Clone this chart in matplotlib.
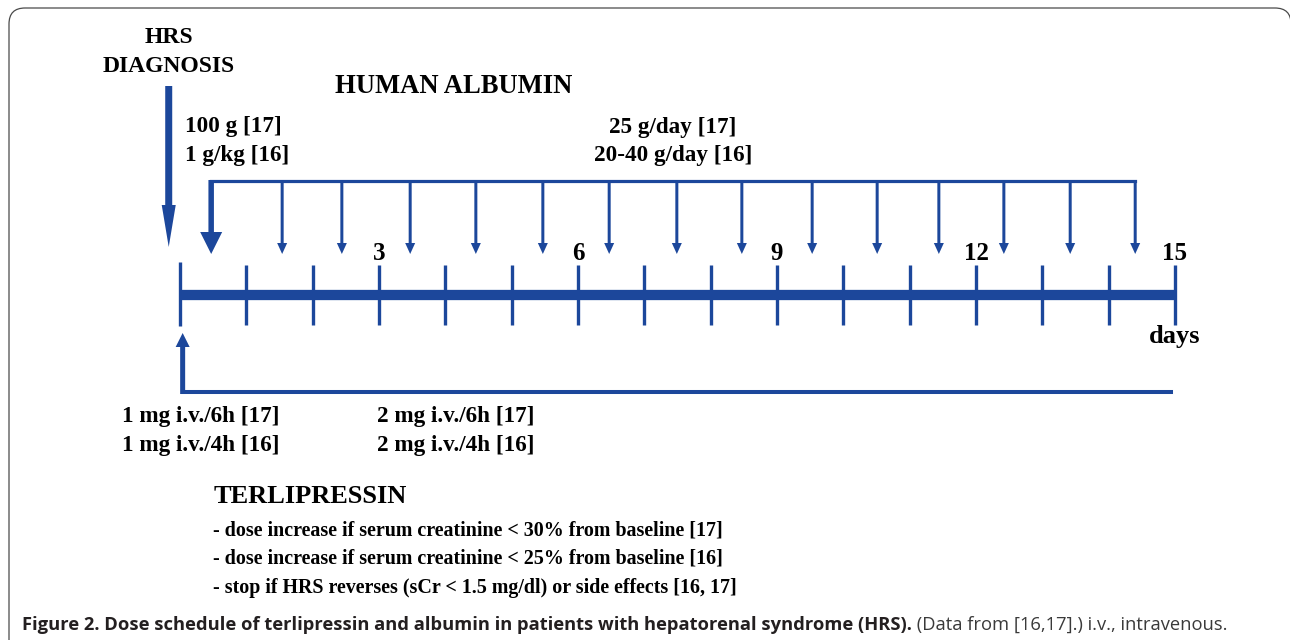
import numpy as np
import matplotlib
matplotlib.use("Agg")
import matplotlib.pyplot as plt
from matplotlib.patches import FancyBboxPatch
from matplotlib.transforms import IdentityTransform

# ---------------- data ----------------
DAYS = list(range(0, 16))
LABELED_DAYS = [3, 6, 9, 12, 15]
HRS_DIAGNOSIS_DAY = -0.17
ALBUMIN_LOADING_DAY = 0.47
ALBUMIN_DAILY_DAYS = [1.54, 2.44, 3.47, 4.46, 5.47, 6.47, 7.49, 8.47,
                      9.53, 10.51, 11.44, 12.42, 13.42, 14.40]
TERLIPRESSIN_START_DAY = 0.04
TERLIPRESSIN_END_DAY = 14.94
TERLI_INCREASE_LABEL_DAY = 2.97

DIAGNOSIS_LABEL = ["HRS", "DIAGNOSIS"]
ALBUMIN_TITLE = "HUMAN ALBUMIN"
ALBUMIN_LOADING_LABELS = ["100 g [17]", "1 g/kg [16]"]
ALBUMIN_DAILY_LABELS = ["25 g/day [17]", "20-40 g/day [16]"]
TERLI_START_LABELS = ["1 mg i.v./6h [17]", "1 mg i.v./4h [16]"]
TERLI_INCREASED_LABELS = ["2 mg i.v./6h [17]", "2 mg i.v./4h [16]"]
TERLI_TITLE = "TERLIPRESSIN"
TERLI_NOTES = [
    "- dose increase if serum creatinine < 30% from baseline [17]",
    "- dose increase if serum creatinine < 25% from baseline [16]",
    "- stop if HRS reverses (sCr < 1.5 mg/dl) or side effects [16, 17]",
]
AXIS_UNIT = "days"
CAPTION_BOLD = ("Figure 2. Dose schedule of terlipressin and albumin in patients "
                "with hepatorenal syndrome (HRS).")
CAPTION_REGULAR = " (Data from [16,17].) i.v., intravenous."

# ---------------- layout ----------------
W, H = 1290, 640
X0 = 180.0            # pixel of day 0
K = 995.0 / 15.0      # pixels per day
BLUE = "#1c479b"
SERIF = "Liberation Serif"

fig = plt.figure(figsize=(W / 100, H / 100), dpi=100)
ax = fig.add_axes([0, 0, 1, 1])
ax.set_xlim(-X0 / K, (W - X0) / K)
ax.set_ylim(H, 0)
ax.axis("off")

# rounded frame
frame = FancyBboxPatch((9, -30), 1282, 632 + 30, boxstyle="round,pad=0,rounding_size=16",
                       transform=IdentityTransform(), fill=False,
                       edgecolor="#4a4a4a", lw=0.9)
fig.patches.append(frame)


def varrow(day, y_from, y_to, shaft, head_w, head_len):
    ax.arrow(day, y_from, 0, y_to - y_from, width=shaft / K, head_width=head_w / K,
             head_length=head_len, length_includes_head=True, color=BLUE, lw=0)


def stext(x, y, s, size, ha="left"):
    ax.text(x, y, s, fontsize=size, fontweight="bold", family=SERIF,
            ha=ha, va="baseline", color="black")


# timeline
ax.plot([DAYS[0], DAYS[-1]], [295, 295], color=BLUE, lw=7.4, solid_capstyle="butt")
ax.vlines(DAYS[1:], 265, 325, color=BLUE, lw=2.4)
ax.vlines(DAYS[0], 262, 326, color=BLUE, lw=2.4)
for d in LABELED_DAYS:
    stext(d, 260, str(d), 18, ha="center")
stext(DAYS[-1], 343, AXIS_UNIT, 19, ha="center")

# HRS diagnosis
stext(HRS_DIAGNOSIS_DAY, 43, DIAGNOSIS_LABEL[0], 17, ha="center")
stext(HRS_DIAGNOSIS_DAY, 72, DIAGNOSIS_LABEL[1], 17, ha="center")
varrow(HRS_DIAGNOSIS_DAY, 86, 247, 7, 14, 42)

# albumin
stext(2.34, 93, ALBUMIN_TITLE, 19.2)
stext(0.075, 132, ALBUMIN_LOADING_LABELS[0], 16.7)
stext(0.075, 161, ALBUMIN_LOADING_LABELS[1], 16.7)
stext(7.43, 133, ALBUMIN_DAILY_LABELS[0], 16.7, ha="center")
stext(7.43, 161, ALBUMIN_DAILY_LABELS[1], 16.7, ha="center")
ax.plot([ALBUMIN_LOADING_DAY, ALBUMIN_DAILY_DAYS[-1]], [181, 181], color=BLUE,
        lw=2.3, solid_capstyle="projecting")
varrow(ALBUMIN_LOADING_DAY, 180, 254, 5.5, 22, 22)
for d in ALBUMIN_DAILY_DAYS:
    varrow(d, 180, 254, 3, 10, 11)

# terlipressin
ax.plot([TERLIPRESSIN_START_DAY, TERLIPRESSIN_END_DAY], [392, 392], color=BLUE,
        lw=2.9, solid_capstyle="projecting")
varrow(TERLIPRESSIN_START_DAY, 394, 333, 5, 14, 14)
stext(-0.87, 422, TERLI_START_LABELS[0], 16.7)
stext(-0.87, 451, TERLI_START_LABELS[1], 16.7)
stext(TERLI_INCREASE_LABEL_DAY, 422, TERLI_INCREASED_LABELS[0], 16.7)
stext(TERLI_INCREASE_LABEL_DAY, 451, TERLI_INCREASED_LABELS[1], 16.7)
stext(0.5, 503, TERLI_TITLE, 19)
for i, note in enumerate(TERLI_NOTES):
    stext(0.5, 535 + 29 * i, note, 14.4)

# caption
cap = ax.text(-158 / K, 630, CAPTION_BOLD, fontsize=13.2, fontweight="bold",
              family="Open Sans", color="#231f20", ha="left", va="baseline")
ax.annotate(CAPTION_REGULAR, xy=(1, 0), xycoords=cap, fontsize=13.2,
            family="Open Sans", color="#3a3a3a", ha="left", va="bottom")

fig.savefig("out.png", dpi=100)
